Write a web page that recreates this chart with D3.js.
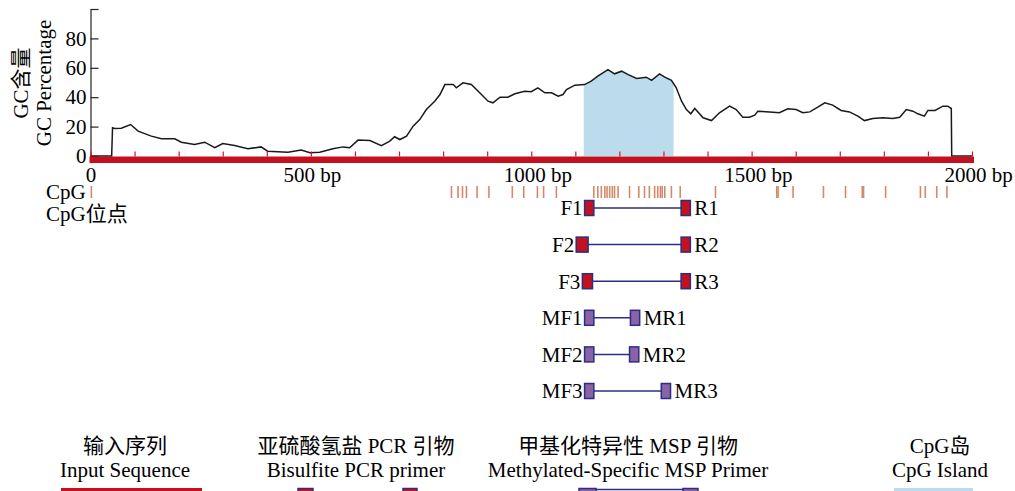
<!DOCTYPE html>
<html lang="zh">
<head>
<meta charset="UTF-8">
<title>GC content and primers</title>
<script src="https://cdn.jsdelivr.net/npm/d3@7"></script>
<style>
  body { margin: 0; background: #fff; }
  text { font-family: "Liberation Serif", "Noto Sans CJK SC", serif; font-size: 21px; fill: #000; }
</style>
</head>
<body>
<svg id="chart" width="1015" height="491"></svg>
<script>
// GC percentage along the sequence (bp, %)
var gcPos = [0, 48, 50, 55, 70, 91, 108, 138, 161, 191, 206, 236, 259, 282, 300, 327, 357, 387, 402, 448, 478,
  498, 520, 550, 573, 588, 607, 634, 660, 679, 690, 702, 717, 732, 747, 762, 781, 793, 804, 823, 830, 845, 864,
  883, 902, 913, 929, 947, 963, 985, 1000, 1015, 1031, 1046, 1061, 1072, 1080, 1099, 1121, 1136, 1151, 1174,
  1189, 1205, 1220, 1239, 1261, 1273, 1291, 1303, 1318, 1329, 1341, 1352, 1362, 1371, 1390, 1409, 1427, 1450,
  1465, 1480, 1495, 1507, 1514, 1541, 1563, 1582, 1601, 1616, 1632, 1650, 1666, 1684, 1703, 1722, 1741, 1756,
  1775, 1798, 1820, 1836, 1851, 1866, 1877, 1892, 1900, 1916, 1934, 1945, 1953, 1954, 2000];
var gcVal = [0, 0, 19.2, 18.7, 18.9, 21.4, 16.9, 13.5, 11.7, 11.7, 9.4, 7.8, 9.4, 5.6, 8.5, 7.1, 4.9, 6.2, 3.3, 2.6, 4,
  2.2, 2.6, 4.9, 6.2, 5.6, 10.8, 10.5, 7.1, 10.1, 13.1, 11.2, 13.5, 20.3, 24.8, 31.6, 37.3, 41.8, 48.6, 48.6, 46.4, 49.8, 48.6,
  43, 37.3, 36.2, 40, 40, 42.3, 44.1, 43.7, 46.4, 43, 43, 40.7, 41.8, 45.2, 48.2, 48.6, 50.9, 54.3, 58.8,
  55.9, 57.7, 55.4, 52.7, 53.6, 51.4, 55.9, 53.6, 51.4, 46.4, 37.3, 31.6, 28.7, 32.3, 26, 24.1, 29.4, 33.9,
  31.6, 26.4, 26.4, 27.8, 30.5, 30, 29.4, 32.1, 31.6, 29.4, 30, 33.2, 36.2, 34.6, 31, 30, 27.1, 24.1,
  25.5, 26, 25.5, 26.4, 31.6, 30.5, 28.7, 27.1, 31, 31, 33.9, 33.9, 32.3, 0, 0];

// CpG sites (bp)
var cpgSites = [2, 819, 834, 844, 853, 877, 904, 957, 983, 1014, 1028, 1057, 1142, 1151, 1159, 1167, 1172, 1178,
  1184, 1189, 1197, 1223, 1244, 1257, 1268, 1280, 1287, 1293, 1297, 1303, 1318, 1338, 1418, 1557, 1560,
  1594, 1663, 1713, 1751, 1754, 1804, 1883, 1894, 1920, 1943];

// CpG island (bp)
var island = [1119, 1323];

// primer pairs: forward [start,end], reverse [start,end]
var pairNames = ["1", "2", "3", "M1", "M2", "M3"];
var fwdNames = ["F1", "F2", "F3", "MF1", "MF2", "MF3"];
var revNames = ["R1", "R2", "R3", "MR1", "MR2", "MR3"];
var fwdPos = [[1121, 1142], [1102, 1129], [1116, 1139], [1121, 1142], [1121, 1142], [1121, 1142]];
var revPos = [[1340, 1361], [1340, 1361], [1340, 1361], [1225, 1246], [1223, 1244], [1295, 1316]];
var pairType = ["bsp", "bsp", "bsp", "msp", "msp", "msp"];

var xTicks = [0, 500, 1000, 1500, 2000];
var yTicks = [0, 20, 40, 60, 80, 100];

var legendZh = ["输入序列", "亚硫酸氢盐 PCR 引物", "甲基化特异性 MSP 引物", "CpG岛"];
var legendEn = ["Input Sequence", "Bisulfite PCR primer", "Methylated-Specific MSP Primer", "CpG Island"];
var legendKind = ["seq", "bsp", "msp", "island"];
var legendCenter = [125, 356, 628, 940];

var RED = "#c4111f", NAVY = "#2b2e84", PURPLE = "#8a62a6", BLUE = "#bcdcee", CPG = "#d38a6c";

var svg = d3.select("#chart");
var x = d3.scaleLinear().domain([0, 2000]).range([90.5, 972]);
var y = d3.scaleLinear().domain([0, 100]).range([156, 9]);

var gc = gcPos.map(function(p, i) { return {pos: p, val: gcVal[i]}; });

// CpG island: area under the curve clipped to the island range
svg.append("clipPath").attr("id", "islandClip")
  .append("rect")
    .attr("x", x(island[0])).attr("y", 0)
    .attr("width", x(island[1]) - x(island[0])).attr("height", y(0));
svg.append("path")
  .datum(gc)
  .attr("clip-path", "url(#islandClip)")
  .attr("fill", BLUE)
  .attr("d", d3.area().x(function(d) { return x(d.pos); }).y0(y(0)).y1(function(d) { return y(d.val); }));

// y axis
var yAxis = svg.append("g")
  .attr("transform", "translate(" + x(0) + ",0)")
  .call(d3.axisLeft(y).tickValues(yTicks).tickSizeInner(-8).tickSizeOuter(0).tickPadding(4)
    .tickFormat(function(d) { return d === 100 ? "" : d; }));
yAxis.selectAll("path, line").attr("stroke", "#222").attr("stroke-width", 1.2);
yAxis.selectAll("text").style("font-family", "Liberation Serif").style("font-size", "21px");

// GC line
svg.append("path")
  .datum(gc)
  .attr("fill", "none")
  .attr("stroke", "#1a1a1a")
  .attr("stroke-width", 1.5)
  .attr("d", d3.line().x(function(d) { return x(d.pos); }).y(function(d) { return y(d.val); }));

// sequence bar with small ticks every 100 bp
svg.append("rect")
  .attr("x", x(0) - 1).attr("y", y(0) + 0.5)
  .attr("width", x(2000) - x(0) + 3).attr("height", 6.5)
  .attr("fill", RED);
var bpAxis = svg.append("g")
  .attr("transform", "translate(0," + (y(0) + 0.5) + ")")
  .call(d3.axisTop(x).tickValues(d3.range(0, 2001, 100)).tickSize(5).tickFormat(""));
bpAxis.select(".domain").remove();
bpAxis.selectAll("line").attr("stroke", "#d8121f").attr("stroke-width", 1.2);

var labAxis = svg.append("g")
  .attr("transform", "translate(0," + (y(0) + 7) + ")")
  .call(d3.axisBottom(x).tickValues(xTicks).tickSize(0).tickPadding(4)
    .tickFormat(function(d) { return d === 0 ? "0" : d + " bp"; }));
labAxis.select(".domain").remove();
labAxis.selectAll("text").style("font-family", "Liberation Serif").style("font-size", "21px");
// bp labels start a little left of their tick
labAxis.selectAll("text").filter(function(d) { return d !== 0; })
  .attr("text-anchor", "start").attr("x", -28);

// y titles
svg.append("text")
  .attr("transform", "translate(21,83) rotate(-90)")
  .attr("text-anchor", "middle").attr("dy", "0.35em")
  .text("GC含量");
svg.append("text")
  .attr("transform", "translate(44,83) rotate(-90)")
  .attr("text-anchor", "middle").attr("dy", "0.35em")
  .text("GC Percentage");

// CpG sites
svg.append("text").attr("x", 46).attr("y", 199).text("CpG");
svg.append("text").attr("x", 46).attr("y", 221).text("CpG位点");
svg.append("g").selectAll("line")
  .data(cpgSites)
  .enter().append("line")
    .attr("x1", function(d) { return x(d); }).attr("x2", function(d) { return x(d); })
    .attr("y1", 186).attr("y2", 198)
    .attr("stroke", CPG).attr("stroke-width", 1.6);

// primers
var rowY = d3.scalePoint().domain(pairNames).range([208, 391]);
var boxH = 15;
var pairs = svg.append("g").selectAll("g")
  .data(pairNames)
  .enter().append("g")
    .attr("transform", function(d) { return "translate(0," + rowY(d) + ")"; });

pairs.append("line")
  .attr("x1", function(d, i) { return x(fwdPos[i][1]); })
  .attr("x2", function(d, i) { return x(revPos[i][0]); })
  .attr("stroke", NAVY).attr("stroke-width", 1.5);
pairs.append("rect")
  .attr("x", function(d, i) { return x(fwdPos[i][0]); })
  .attr("width", function(d, i) { return x(fwdPos[i][1]) - x(fwdPos[i][0]); })
  .attr("y", -boxH / 2).attr("height", boxH)
  .attr("fill", function(d, i) { return pairType[i] === "bsp" ? RED : PURPLE; })
  .attr("stroke", NAVY).attr("stroke-width", 1.5);
pairs.append("rect")
  .attr("x", function(d, i) { return x(revPos[i][0]); })
  .attr("width", function(d, i) { return x(revPos[i][1]) - x(revPos[i][0]); })
  .attr("y", -boxH / 2).attr("height", boxH)
  .attr("fill", function(d, i) { return pairType[i] === "bsp" ? RED : PURPLE; })
  .attr("stroke", NAVY).attr("stroke-width", 1.5);
pairs.append("text")
  .attr("x", function(d, i) { return x(fwdPos[i][0]) - 2; })
  .attr("dy", "0.35em").attr("text-anchor", "end")
  .text(function(d, i) { return fwdNames[i]; });
pairs.append("text")
  .attr("x", function(d, i) { return x(revPos[i][1]) + 4; })
  .attr("dy", "0.35em")
  .text(function(d, i) { return revNames[i]; });

// legend
var leg = svg.append("g").selectAll("g")
  .data(legendKind)
  .enter().append("g")
    .attr("transform", function(d, i) { return "translate(" + legendCenter[i] + ",0)"; });
leg.append("text").attr("y", 453).attr("text-anchor", "middle")
  .text(function(d, i) { return legendZh[i]; });
leg.append("text").attr("y", 477).attr("text-anchor", "middle")
  .text(function(d, i) { return legendEn[i]; });

leg.filter(function(d) { return d === "seq"; }).append("rect")
  .attr("x", -64).attr("y", 488).attr("width", 141).attr("height", 7).attr("fill", RED);
leg.filter(function(d) { return d === "island"; }).append("rect")
  .attr("x", -46).attr("y", 488).attr("width", 79).attr("height", 7).attr("fill", BLUE);
leg.filter(function(d) { return d === "bsp" || d === "msp"; }).each(function(d) {
  var g = d3.select(this);
  var fill = d === "bsp" ? RED : PURPLE;
  var a = d === "bsp" ? [-58, -43] : [-49, -32];
  var b = d === "bsp" ? [47, 61] : [55, 70];
  var ly = d === "bsp" ? 497 : 489.5;
  g.append("line").attr("x1", a[1]).attr("x2", b[0]).attr("y1", ly).attr("y2", ly)
    .attr("stroke", NAVY).attr("stroke-width", 1.5);
  g.append("rect").attr("x", a[0]).attr("y", 488.5).attr("width", a[1] - a[0]).attr("height", 15)
    .attr("fill", fill).attr("stroke", NAVY).attr("stroke-width", 1.5);
  g.append("rect").attr("x", b[0]).attr("y", 488.5).attr("width", b[1] - b[0]).attr("height", 15)
    .attr("fill", fill).attr("stroke", NAVY).attr("stroke-width", 1.5);
});
</script>
</body>
</html>
